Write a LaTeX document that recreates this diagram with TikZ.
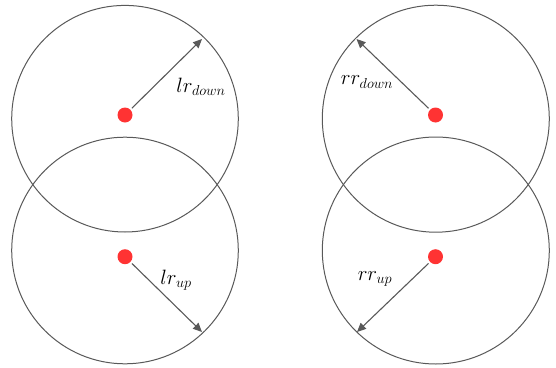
\documentclass[tikz,border=0pt]{standalone}
\usepackage{tikz}
\usepackage{xcolor}
\usetikzlibrary{arrows.meta}

\definecolor{ringgray}{HTML}{595959}
\definecolor{dotred}{HTML}{FF3333}

\tikzset{
  ring/.style={draw=ringgray, line width=1pt},
  hub/.style={circle, fill=dotred, inner sep=0pt, minimum size=15pt},
  radius arrow/.style={draw=ringgray, line width=1.1pt, -{Triangle[length=9pt,width=8pt]}, shorten <=2pt},
  lbl/.style={font={\fontsize{22}{22}\selectfont}, inner sep=0pt}
}

\begin{document}
\begin{tikzpicture}[x=1pt, y=-1pt]
\useasboundingbox (0,0) rectangle (556,367);
\draw[ring] (125,118.7) circle (113.3);
\draw[ring] (125,250.5) circle (113.3);
\draw[ring] (435.8,118.7) circle (113.5);
\draw[ring] (435.8,250.5) circle (113.5);
\node[hub] (lt) at (125,115) {};
\node[hub] (lb) at (125,256.7) {};
\node[hub] (rt) at (435.5,115) {};
\node[hub] (rb) at (435.5,256.7) {};
\coordinate (ltend) at (202,39);
\coordinate (lbend) at (202,332);
\coordinate (rtend) at (356.5,39);
\coordinate (rbend) at (357,332);
\draw[radius arrow] (lt) -- (ltend);
\draw[radius arrow] (lb) -- (lbend);
\draw[radius arrow] (rt) -- (rtend);
\draw[radius arrow] (rb) -- (rbend);
\node[lbl] (ltlabel) at (201,87) {$lr_{down}$};
\node[lbl] (lblabel) at (176,280) {$lr_{up}$};
\node[lbl] (rtlabel) at (367,82) {$rr_{down}$};
\node[lbl] (rblabel) at (375,279) {$rr_{up}$};
\end{tikzpicture}
\end{document}
